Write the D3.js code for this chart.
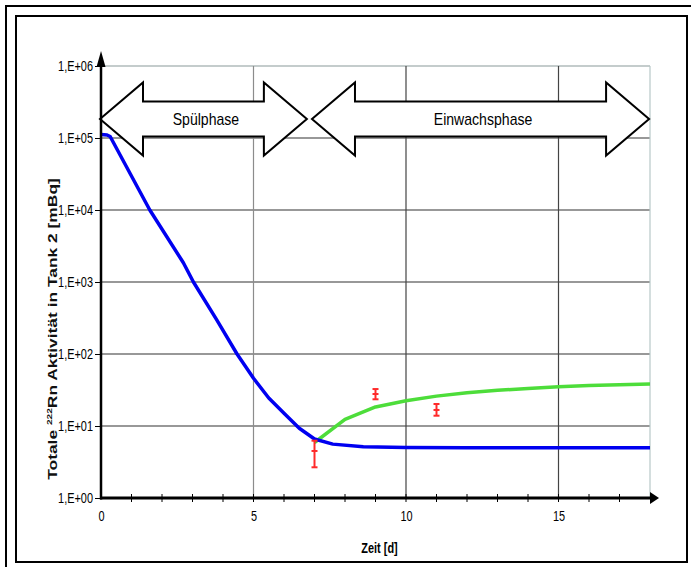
<!DOCTYPE html>
<html>
<head>
<meta charset="utf-8">
<script src="https://cdn.jsdelivr.net/npm/d3@7"></script>
<style>
  html, body { margin: 0; padding: 0; background: #fff; }
  svg { display: block; }
  .narrow { font-family: "Liberation Sans Narrow", "Arial Narrow", "Liberation Sans", sans-serif; }
  .wide { font-family: "Liberation Sans", Arial, sans-serif; }
</style>
</head>
<body>
<svg id="chart" width="691" height="567"></svg>
<script>
// Radon-222 activity in tank 2: flushing phase followed by ingrowth phase
const blueTime  = [0, 0.2, 0.3, 1.6, 2.7, 3.03, 3.8, 4.46, 5, 5.5, 6, 6.5, 7, 7.6, 8.6, 10, 12, 14, 16, 18];
const blueValue = [1.12e5, 1.1e5, 1.05e5, 1.0e4, 1.85e3, 1.0e3, 295, 100, 46, 24.5, 15, 9.3, 6.6, 5.6, 5.15, 5.02, 5.0, 5.0, 5.0, 5.0];

const greenTime  = [7, 8, 9, 10, 11, 12, 13, 14, 15, 16, 17, 18];
const greenValue = [5.9, 12.4, 18.4, 22.4, 26, 29, 31.3, 33.3, 35, 36.4, 37.5, 38.4];

const measTime  = [7, 9, 11];
const measValue = [4.5, 27.8, 16.7];
const measLow   = [2.67, 23.5, 13.9];
const measHigh  = [6.25, 32.6, 20.2];

const yTickValues = [1, 10, 100, 1e3, 1e4, 1e5, 1e6];
const yTickLabels = ["1,E+00", "1,E+01", "1,E+02", "1,E+03", "1,E+04", "1,E+05", "1,E+06"];
const xTickValues = [0, 5, 10, 15];

const phaseLabels = ["Spülphase", "Einwachsphase"];
const phaseStart  = [0, 6.95];
const phaseEnd    = [6.75, 17.97];

const squeeze = 0.78; // horizontal compression for the narrow labels

const svg = d3.select("#chart");

// double frame
svg.append("rect").attr("x", 6).attr("y", 6).attr("width", 700).attr("height", 600)
  .attr("fill", "none").attr("stroke", "#000").attr("stroke-width", 2);
svg.append("rect").attr("x", 16).attr("y", 16).attr("width", 671).attr("height", 546)
  .attr("fill", "#fff").attr("stroke", "#000").attr("stroke-width", 2);

const x = d3.scaleLinear().domain([0, 18]).range([101, 650]);
const y = d3.scaleLog().domain([1, 1e6]).range([498, 66]);

// horizontal grid
svg.append("g").selectAll("line").data(yTickValues.slice(1)).join("line")
  .attr("x1", x(0)).attr("x2", x(18))
  .attr("y1", d => y(d)).attr("y2", d => y(d))
  .attr("stroke", d => d === 1e6 ? "#8a9a9a" : "#333")
  .attr("stroke-width", 1.2);

// vertical grid
svg.append("g").selectAll("line").data([5, 10, 15, 18]).join("line")
  .attr("x1", d => x(d)).attr("x2", d => x(d))
  .attr("y1", y(1e6)).attr("y2", y(1))
  .attr("stroke", d => d === 5 ? "#8c8c8c" : d === 18 ? "#b8c8c8" : "#444")
  .attr("stroke-width", 1.2);

// phase arrows
const cy = 119, headHalf = 36.5, shaftHalf = 17.5, headLen = 43;
function doubleArrow(x0, x1) {
  const p = d3.path();
  p.moveTo(x0, cy);
  p.lineTo(x0 + headLen, cy - headHalf);
  p.lineTo(x0 + headLen, cy - shaftHalf);
  p.lineTo(x1 - headLen, cy - shaftHalf);
  p.lineTo(x1 - headLen, cy - headHalf);
  p.lineTo(x1, cy);
  p.lineTo(x1 - headLen, cy + headHalf);
  p.lineTo(x1 - headLen, cy + shaftHalf);
  p.lineTo(x0 + headLen, cy + shaftHalf);
  p.lineTo(x0 + headLen, cy + headHalf);
  p.closePath();
  return p.toString();
}
const phases = svg.append("g").selectAll("g").data(phaseLabels).join("g");
phases.append("path")
  .attr("d", (d, i) => doubleArrow(x(phaseStart[i]) - 1, x(phaseEnd[i])))
  .attr("fill", "#fff").attr("stroke", "#000").attr("stroke-width", 2)
  .attr("stroke-linejoin", "miter");
phases.append("text").attr("class", "narrow")
  .attr("transform", (d, i) => `translate(${(x(phaseStart[i]) + x(phaseEnd[i])) / 2 + 2},${cy + 6}) scale(0.88,1)`)
  .attr("text-anchor", "middle").attr("font-size", 16)
  .text(d => d);

// model curves
const line = d3.line().x(d => x(d[0])).y(d => y(d[1]));
svg.append("path").datum(greenTime.map((t, i) => [t, greenValue[i]]))
  .attr("d", line).attr("fill", "none").attr("stroke", "#4ddd3a").attr("stroke-width", 3.5)
  .attr("stroke-linejoin", "round");
svg.append("path").datum(blueTime.map((t, i) => [t, blueValue[i]]))
  .attr("d", line).attr("fill", "none").attr("stroke", "#0000f0").attr("stroke-width", 3.5)
  .attr("stroke-linejoin", "round");

// measurements with error bars
const meas = svg.append("g").attr("stroke", "#ff2a2a").attr("stroke-width", 2)
  .selectAll("g").data(measTime).join("g");
meas.append("line").attr("x1", d => x(d)).attr("x2", d => x(d))
  .attr("y1", (d, i) => y(measHigh[i])).attr("y2", (d, i) => y(measLow[i]));
meas.append("line").attr("x1", d => x(d) - 3).attr("x2", d => x(d) + 3)
  .attr("y1", (d, i) => y(measHigh[i])).attr("y2", (d, i) => y(measHigh[i]));
meas.append("line").attr("x1", d => x(d) - 3).attr("x2", d => x(d) + 3)
  .attr("y1", (d, i) => y(measLow[i])).attr("y2", (d, i) => y(measLow[i]));
meas.append("line").attr("x1", d => x(d) - 3).attr("x2", d => x(d) + 3)
  .attr("y1", (d, i) => y(measValue[i])).attr("y2", (d, i) => y(measValue[i]));

// y axis
const yAxis = svg.append("g").attr("transform", `translate(${x(0)},0)`)
  .call(d3.axisLeft(y).tickValues(yTickValues)
    .tickFormat((d, i) => yTickLabels[i]).tickSize(6).tickPadding(3));
yAxis.select(".domain").remove();
yAxis.selectAll(".tick line").attr("stroke", "#000");
yAxis.selectAll(".tick text").attr("class", "narrow").attr("font-size", 14).attr("fill", "#000")
  .attr("x", -8 / squeeze).attr("transform", `scale(${squeeze},1)`);
svg.append("line").attr("x1", x(0)).attr("x2", x(0)).attr("y1", y(1) + 1.5).attr("y2", 64)
  .attr("stroke", "#000").attr("stroke-width", 2.5);
svg.append("path").attr("d", `M${x(0) - 4.5},67 L${x(0)},51 L${x(0) + 4.5},67 Z`).attr("fill", "#000");

// x axis
const xAxis = svg.append("g").attr("transform", `translate(0,${y(1)})`)
  .call(d3.axisBottom(x).tickValues(xTickValues).tickSize(0).tickPadding(13));
xAxis.select(".domain").remove();
xAxis.selectAll(".tick text").attr("class", "narrow").attr("font-size", 14).attr("fill", "#000")
  .attr("transform", `scale(${squeeze},1)`);
svg.append("g").selectAll("line").data(d3.range(1, 18)).join("line")
  .attr("x1", d => x(d)).attr("x2", d => x(d))
  .attr("y1", y(1) - 4).attr("y2", y(1) + 4)
  .attr("stroke", "#000").attr("stroke-width", 1);
svg.append("line").attr("x1", x(0) - 1).attr("x2", 652).attr("y1", y(1)).attr("y2", y(1))
  .attr("stroke", "#000").attr("stroke-width", 3);
svg.append("path").attr("d", `M650,${y(1) - 6} L659,${y(1)} L650,${y(1) + 6} Z`).attr("fill", "#000");

// axis titles
svg.append("text").attr("class", "narrow")
  .attr("transform", `translate(${(x(0) + x(18)) / 2 + 4},553) scale(${squeeze},1)`)
  .attr("text-anchor", "middle").attr("font-size", 14).attr("font-weight", "bold")
  .text("Zeit [d]");

const yTitle = svg.append("text").attr("class", "wide")
  .attr("transform", "translate(57,329) rotate(-90) scale(1.45,1)")
  .attr("text-anchor", "middle").attr("font-size", 12).attr("font-weight", "bold")
  .attr("fill", "#111");
yTitle.append("tspan").text("Totale ");
yTitle.append("tspan").attr("font-size", 7).attr("dy", -5).text("222");
yTitle.append("tspan").attr("dy", 5).text("Rn Aktivität in Tank 2 [mBq]");
</script>
</body>
</html>
